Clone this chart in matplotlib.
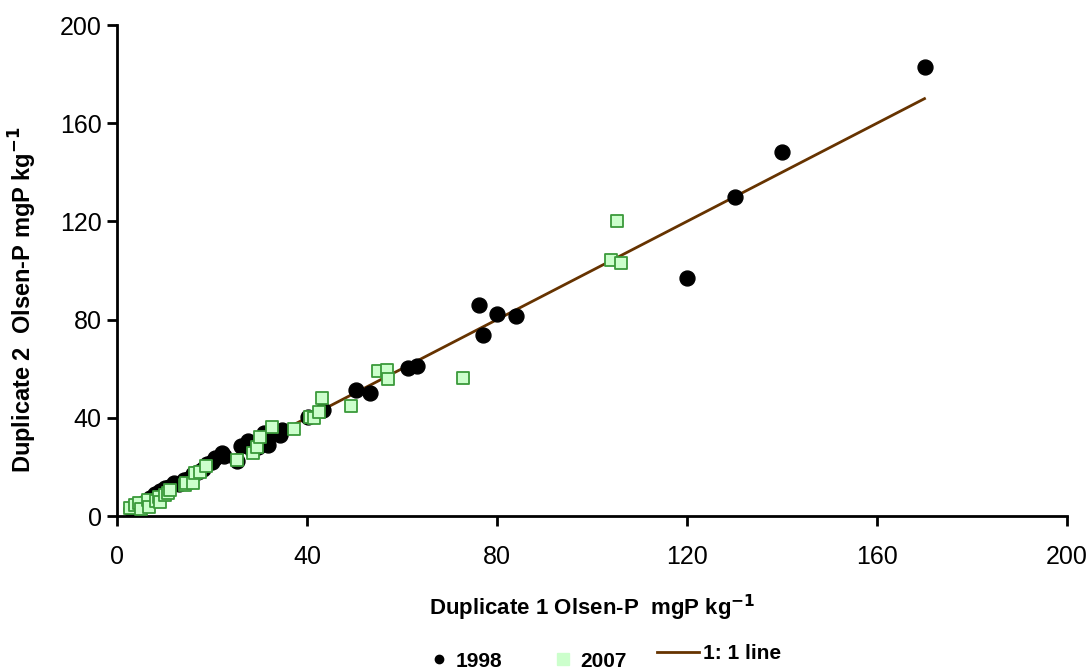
import matplotlib
matplotlib.use("Agg")
import matplotlib.pyplot as plt
from matplotlib.lines import Line2D

plt.rcParams['font.family'] = ['Liberation Sans', 'DejaVu Sans']

# 1998 duplicate Olsen-P measurements (mgP kg-1)
dup1_1998 = [3, 4, 5, 6, 7, 8, 9, 10, 11, 12, 13, 14, 15, 16, 17, 18, 19, 20,
             20.6, 22, 22.5, 25.3, 26, 27.6, 28.5, 29.7, 31, 31.8, 32, 33, 34.3,
             34.7, 40.2, 43.4, 50.3, 53.3, 61.3, 63.2, 76.2, 77, 80, 84, 120,
             130, 140, 170]
dup2_1998 = [3, 4, 5, 6, 7.5, 9, 10, 11.5, 12, 13.5, 13, 14.5, 15, 17, 18, 19,
             21, 22, 23.6, 25.5, 24.5, 22.4, 28.5, 30.5, 27, 28.1, 34, 29, 32.5,
             34.5, 33, 35, 40.3, 43.2, 51.5, 50.1, 60.3, 61.1, 85.9, 73.7, 82.3,
             81.5, 96.9, 130, 148.3, 183]

# 2007 duplicate Olsen-P measurements (mgP kg-1)
dup1_2007 = [2.7, 3.8, 4.6, 5, 6.5, 6.7, 8.2, 8.8, 9, 10, 10.7, 11.2, 14.3, 14.5,
             16, 16.4, 17.5, 18.7, 25.3, 28.6, 29.5, 30.1, 32.6, 37.3, 40.6, 41.5,
             42.5, 43.1, 49.2, 55, 56.8, 57, 72.8, 104, 105.3, 106.1]
dup2_2007 = [3.2, 4.5, 5.3, 3, 6.5, 3.7, 6, 7.7, 5.5, 8.5, 9.4, 10.6, 12.5, 13.4,
             13.4, 17.5, 17.9, 20.4, 22.8, 25.7, 28.1, 32.2, 36.3, 35.5, 40.3, 39.9,
             42.4, 48, 44.8, 59, 59.5, 55.8, 56.2, 104.3, 120.2, 103]

# 1:1 reference line
line_x = [2, 170]
line_y = [2, 170]

ticks = [0, 40, 80, 120, 160, 200]

LINE_COLOR = '#663300'

fig = plt.figure(figsize=(10.9, 6.72), dpi=100)
ax = fig.add_axes([117 / 1090, 1 - 516 / 672, (1067 - 117) / 1090, (516 - 25) / 672])

ax.plot(line_x, line_y, color=LINE_COLOR, lw=2.0, zorder=2)
ax.scatter(dup1_1998, dup2_1998, s=115, marker='o', color='black', zorder=3)
ax.scatter(dup1_2007, dup2_2007, s=70, marker='s', facecolor='#ccffcc',
           edgecolor='#3a9a3a', linewidth=1.3, zorder=4)

ax.set_xlim(0, 200)
ax.set_ylim(0, 200)
ax.set_xticks(ticks)
ax.set_yticks(ticks)
ax.tick_params(direction='out', length=7, width=2, labelsize=18)
ax.tick_params(axis='x', pad=14)
ax.tick_params(axis='y', pad=4)
for side in ('top', 'right'):
    ax.spines[side].set_visible(False)
for side in ('left', 'bottom'):
    ax.spines[side].set_linewidth(2)

ax.set_xlabel('Duplicate 1 Olsen-P  mgP kg$^{\\mathbf{-1}}$', fontsize=16,
              fontweight='bold', labelpad=17)
ax.set_ylabel('Duplicate 2  Olsen-P mgP kg$^{\\mathbf{-1}}$', fontsize=17,
              fontweight='bold')
ax.yaxis.set_label_coords(-0.082, 0.44)

legend_font = {'weight': 'bold', 'size': 15}
year_handles = [
    Line2D([], [], marker='o', ls='none', color='black', markersize=6),
    Line2D([], [], marker='s', ls='none', markerfacecolor='#ccffcc',
           markeredgecolor='#ccffcc', markersize=8),
]
fig.legend(year_handles, ['1998', '2007'], loc='center',
           bbox_to_anchor=(0.484, 0.016), ncol=2, frameon=False,
           prop=legend_font, handlelength=1.0, handletextpad=0.3,
           columnspacing=2.4)
fig.legend([Line2D([], [], color=LINE_COLOR, lw=2)], ['1: 1 line'],
           loc='center', bbox_to_anchor=(0.66, 0.027), frameon=False,
           prop=legend_font, handlelength=2.0, handletextpad=0.2)

fig.savefig('out.png', dpi=100)
